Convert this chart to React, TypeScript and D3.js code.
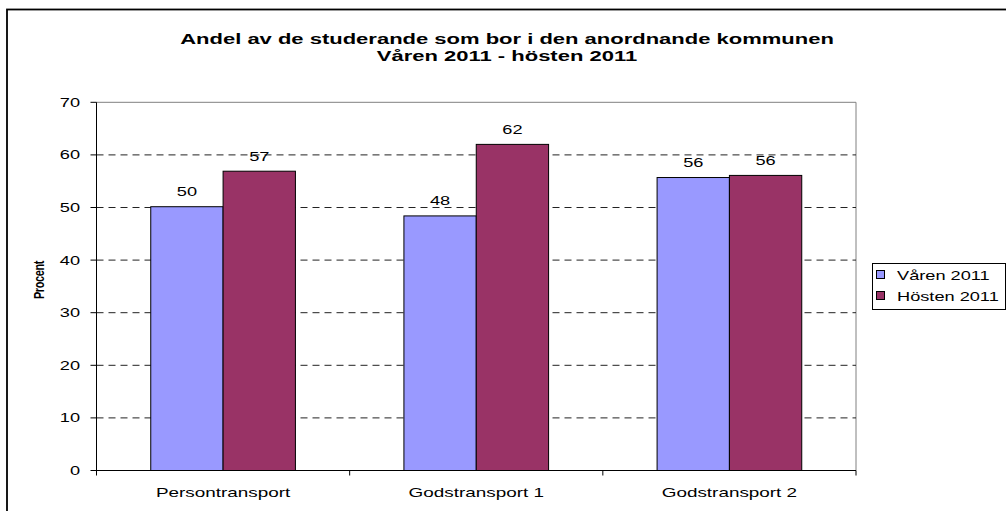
import React from "react";
import * as d3 from "d3";

const categories = ["Persontransport", "Godstransport 1", "Godstransport 2"];
const seriesNames = ["Våren 2011", "Hösten 2011"];
const varen = [50.15, 48.4, 55.7];
const hosten = [56.9, 62.0, 56.1];
const varenLabels = ["50", "48", "56"];
const hostenLabels = ["57", "62", "56"];
const yTicks = [0, 10, 20, 30, 40, 50, 60, 70];
const titleLines = ["Andel av de studerande som bor i den anordnande kommunen", "Våren 2011 - hösten 2011"];
const yLabel = "Procent";

const colors = ["#9999FF", "#993366"];
const font = "'Liberation Sans', Arial, sans-serif";
const SX = 1.4;

type TProps = { x: number; y: number; anchor?: "start" | "middle" | "end"; size: number; bold?: boolean; sx?: number; children: React.ReactNode };
function T({ x, y, anchor = "start", size, bold, sx = SX, children }: TProps) {
  return (
    <text transform={`translate(${x},${y}) scale(${sx},1)`} textAnchor={anchor} fontSize={size} fontWeight={bold ? "bold" : "normal"} fill="#000">
      {children}
    </text>
  );
}

export default function App() {
  const W = 1006, H = 511;
  const left = 96.5, right = 856, top = 102.3, bottom = 470.5;
  const y = d3.scaleLinear().domain([0, 70]).range([bottom, top]);
  const x0 = d3.scaleBand().domain(categories).range([left, right]).paddingInner(0).paddingOuter(0);
  const bw = x0.bandwidth() / 3.5;
  const series = [varen, hosten];
  const labels = [varenLabels, hostenLabels];
  const xBar = (ci: number, si: number) => (x0(categories[ci]) as number) + 0.75 * bw + si * bw;

  return (
    <svg width={W} height={H} style={{ position: "absolute", left: 0, top: 0, fontFamily: font }}>
      <rect x={7} y={9.5} width={1100} height={600} fill="#fff" stroke="#000" strokeWidth={1.8} />
      {titleLines.map((t, i) => (
        <T key={i} x={507} y={43.5 + i * 17} anchor="middle" size={15.5} bold sx={1.42}>{t}</T>
      ))}
      {/* plot frame */}
      <line x1={left} x2={right} y1={top} y2={top} stroke="#808080" />
      <line x1={right} x2={right} y1={top} y2={bottom} stroke="#808080" />
      {/* gridlines */}
      {yTicks.filter(t => t > 0 && t < 70).map(t => (
        <line key={t} x1={left} x2={right} y1={y(t)} y2={y(t)} stroke="#222" strokeWidth={1} strokeDasharray="7,5" />
      ))}
      {/* bars */}
      {series.map((vals, si) => vals.map((v, ci) => (
        <rect key={`${si}-${ci}`} x={xBar(ci, si)} y={y(v)} width={bw} height={y(0) - y(v)} fill={colors[si]} stroke="#000" strokeWidth={1} />
      )))}
      {series.map((vals, si) => vals.map((v, ci) => (
        <T key={`l${si}-${ci}`} x={xBar(ci, si) + bw / 2} y={y(v) - 10.5} anchor="middle" size={13}>{labels[si][ci]}</T>
      )))}
      {/* axes */}
      <line x1={left} x2={left} y1={top} y2={bottom + 5} stroke="#000" />
      <line x1={left} x2={right} y1={bottom} y2={bottom} stroke="#000" />
      {yTicks.map(t => (
        <g key={t}>
          <line x1={left - 6} x2={left} y1={y(t)} y2={y(t)} stroke="#000" />
          <T x={left - 16.5} y={y(t) + 4.5} anchor="end" size={13}>{t}</T>
        </g>
      ))}
      {categories.map((c, i) => (
        <g key={c}>
          {i > 0 && <line x1={x0(c)} x2={x0(c)} y1={bottom} y2={bottom + 5} stroke="#000" />}
          <T x={(x0(c) as number) + x0.bandwidth() / 2} y={497} anchor="middle" size={13.5}>{c}</T>
        </g>
      ))}
      <line x1={right} x2={right} y1={bottom} y2={bottom + 5} stroke="#000" />
      <text transform={`translate(44,280) rotate(-90) scale(1,1.3)`} textAnchor="middle" fontSize={11} fontWeight="bold" letterSpacing={-0.4} fill="#000">{yLabel}</text>
      {/* legend */}
      <rect x={872.5} y={263.5} width={133} height={46} fill="#fff" stroke="#000" />
      {seriesNames.map((s, i) => (
        <g key={s}>
          <rect x={876.5} y={270.5 + i * 21} width={8} height={8} fill={colors[i]} stroke="#000" />
          <T x={897} y={279.5 + i * 21} size={13}>{s}</T>
        </g>
      ))}
    </svg>
  );
}
